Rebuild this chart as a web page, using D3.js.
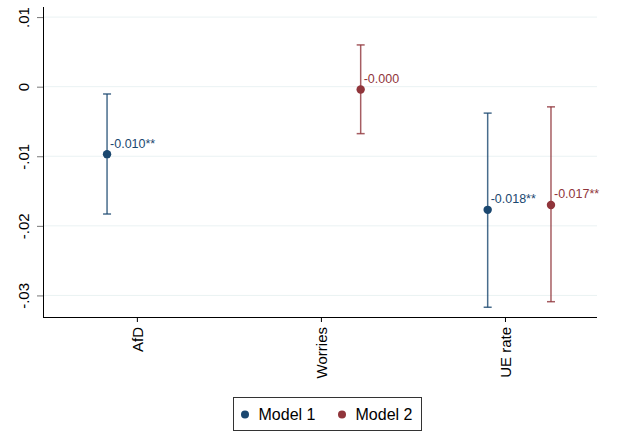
<!DOCTYPE html>
<html>
<head>
<meta charset="utf-8">
<script src="https://cdn.jsdelivr.net/npm/d3@7"></script>
<style>
  html, body { margin: 0; padding: 0; background: #fff; }
  svg { display: block; font-family: Arial, "Liberation Sans", sans-serif; }
</style>
</head>
<body>
<svg id="chart" width="622" height="431"></svg>
<script>
// ---- data ----
const categories = ["AfD", "Worries", "UE rate"];
const categoryPos = [1, 2, 3];
const seriesNames = ["Model 1", "Model 2"];
const seriesColors = ["#1a476f", "#90353b"];
// Model 1
const m1Cat = ["AfD", "UE rate"];
const m1Pos = [0.838, 2.906];
const m1Est = [-0.0097, -0.0177];
const m1Lo = [-0.0183, -0.0317];
const m1Hi = [-0.00105, -0.0038];
const m1Lab = ["-0.010**", "-0.018**"];
// Model 2
const m2Cat = ["Worries", "UE rate"];
const m2Pos = [2.216, 3.250];
const m2Est = [-0.0004, -0.0170];
const m2Lo = [-0.00675, -0.0309];
const m2Hi = [0.0060, -0.0029];
const m2Lab = ["-0.000", "-0.017**"];
const yTicks = [0.01, 0, -0.01, -0.02, -0.03];
const yTickLabels = [".01", "0", "-.01", "-.02", "-.03"];

const series = [
  {name: seriesNames[0], color: seriesColors[0], pts: m1Cat.map((c, i) => ({cat: c, pos: m1Pos[i], est: m1Est[i], lo: m1Lo[i], hi: m1Hi[i], lab: m1Lab[i]}))},
  {name: seriesNames[1], color: seriesColors[1], pts: m2Cat.map((c, i) => ({cat: c, pos: m2Pos[i], est: m2Est[i], lo: m2Lo[i], hi: m2Hi[i], lab: m2Lab[i]}))}
];

// ---- layout ----
const svg = d3.select("#chart");
const pL = 43, pR = 597, pT = 7, pB = 317;
const x = d3.scaleLinear().domain([0.49, 3.5]).range([pL, pR]);
const y = d3.scaleLinear().domain([-0.0331, 0.01145]).range([pB, pT]);

// gridlines
svg.append("g").selectAll("line").data(yTicks).join("line")
  .attr("x1", pL).attr("x2", pR)
  .attr("y1", d => y(d)).attr("y2", d => y(d))
  .attr("stroke", "#eaf2f3").attr("stroke-width", 1);

// y axis
const yAxis = svg.append("g").attr("transform", `translate(${pL},0)`)
  .call(d3.axisLeft(y).tickValues(yTicks).tickFormat((d, i) => yTickLabels[i]).tickSize(6).tickPadding(0));
yAxis.select(".domain").attr("stroke", "#000").attr("d", `M0.5,${pT}V${pB + 0.5}`);
yAxis.selectAll(".tick line").attr("stroke", "#777");
yAxis.selectAll(".tick text")
  .attr("transform", "translate(-19,0) rotate(-90)")
  .attr("x", 0).attr("dy", "0.35em")
  .attr("text-anchor", "middle")
  .attr("font-size", 15).attr("fill", "#000");

// x axis
const xAxis = svg.append("g").attr("transform", `translate(0,${pB})`)
  .call(d3.axisBottom(x).tickValues(categoryPos).tickFormat((d, i) => categories[i]).tickSize(5).tickPadding(0));
xAxis.select(".domain").attr("stroke", "#000").attr("d", `M${pL},0.5H${pR}`);
xAxis.selectAll(".tick line").attr("stroke", "#000");
xAxis.selectAll(".tick text")
  .attr("transform", "translate(0,10) rotate(-90)")
  .attr("y", 0).attr("x", 0).attr("dy", "0.35em")
  .attr("text-anchor", "end")
  .attr("font-size", 15).attr("fill", "#000");

// series
series.forEach(s => {
  const g = svg.append("g");
  const capW = 4;
  g.selectAll("line.ci").data(s.pts).join("line").attr("class", "ci")
    .attr("x1", d => x(d.pos)).attr("x2", d => x(d.pos))
    .attr("y1", d => y(d.hi)).attr("y2", d => y(d.lo))
    .attr("stroke", s.color).attr("stroke-opacity", 0.8).attr("stroke-width", 1.5);
  ["hi", "lo"].forEach(k => {
    g.selectAll("line.cap" + k).data(s.pts).join("line").attr("class", "cap" + k)
      .attr("x1", d => x(d.pos) - capW).attr("x2", d => x(d.pos) + capW)
      .attr("y1", d => y(d[k])).attr("y2", d => y(d[k]))
      .attr("stroke", s.color).attr("stroke-opacity", 0.8).attr("stroke-width", 1.5);
  });
  g.selectAll("circle").data(s.pts).join("circle")
    .attr("cx", d => x(d.pos)).attr("cy", d => y(d.est)).attr("r", 4.2)
    .attr("fill", s.color);
  g.selectAll("text").data(s.pts).join("text")
    .attr("x", d => x(d.pos) + 3)
    .attr("y", d => y(d.est) - 6.5)
    .attr("font-size", 12.5).attr("fill", s.color)
    .text(d => d.lab);
});

// legend
const lg = svg.append("g");
lg.append("rect").attr("x", 233.5).attr("y", 397.5).attr("width", 188).attr("height", 33)
  .attr("fill", "#fff").attr("stroke", "#333").attr("stroke-width", 1);
const legX = [245, 342];
seriesNames.forEach((n, i) => {
  lg.append("circle").attr("cx", legX[i]).attr("cy", 414.5).attr("r", 4).attr("fill", seriesColors[i]);
  lg.append("text").attr("x", legX[i] + 13.5).attr("y", 414.5).attr("dy", "0.35em")
    .attr("font-size", 16).attr("fill", "#000").text(n);
});
</script>
</body>
</html>
